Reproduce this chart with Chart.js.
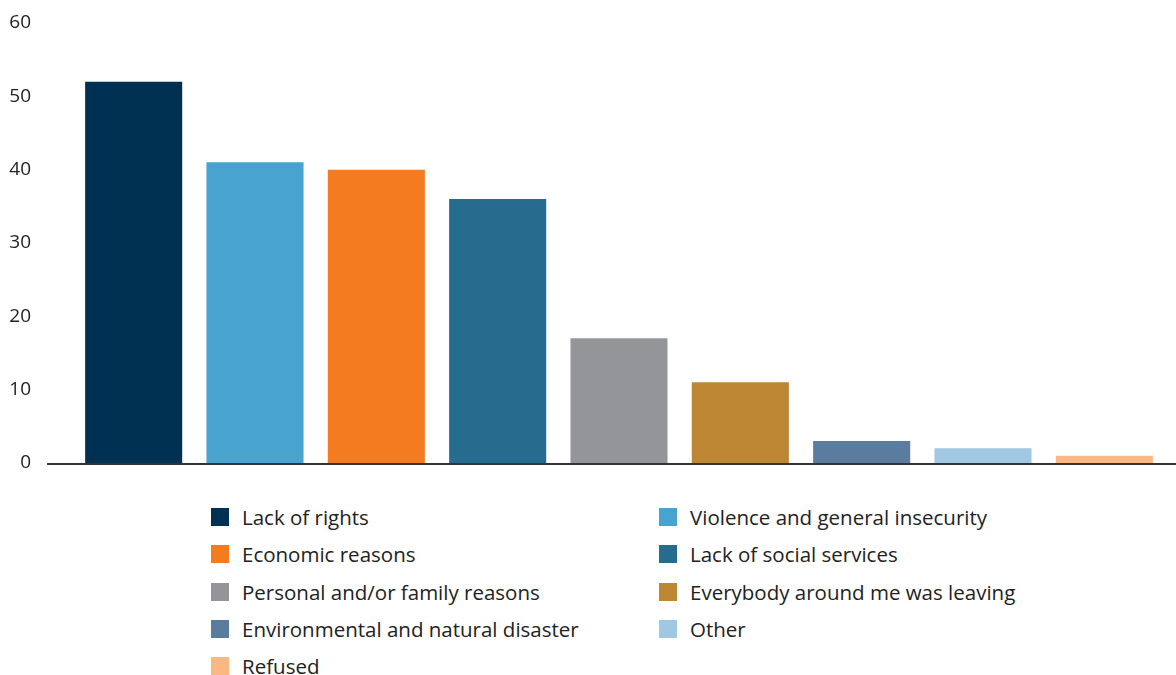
<!DOCTYPE html>
<html>
<head>
<meta charset="utf-8">
<script src="https://cdn.jsdelivr.net/npm/chart.js@4"></script>
<style>
  body { margin: 0; background: #fff; font-family: "Open Sans", Lato, sans-serif; }
  #wrap { position: relative; width: 1176px; height: 482px; }
  #legend {
    position: absolute; left: 211px; top: 505px;
    display: grid; grid-template-columns: 448px 440px; row-gap: 13.3px;
  }
  .item { display: flex; align-items: center; height: 24px; font-size: 20.5px; color: #222; }
  .sw { width: 18px; height: 18px; margin-right: 13px; flex: none; }
</style>
</head>
<body>
<div id="wrap"><canvas id="chart"></canvas></div>
<div id="legend"></div>
<script>
// Reasons for leaving
const categories = [
  'Lack of rights',
  'Violence and general insecurity',
  'Economic reasons',
  'Lack of social services',
  'Personal and/or family reasons',
  'Everybody around me was leaving',
  'Environmental and natural disaster',
  'Other',
  'Refused'
];
const values = [52, 41, 40, 36, 17, 11, 3, 2, 1];
const colors = ['#003052', '#48a3cf', '#f47b20', '#256c8f', '#949599', '#bc8633', '#5a7c9e', '#a1c8e3', '#fbb883'];
const yTicks = [0, 10, 20, 30, 40, 50, 60];

// Baseline that runs past the plot area, like the original
const baseline = {
  id: 'baseline',
  afterDatasetsDraw(chart) {
    const ctx = chart.ctx;
    const y = chart.scales.y.getPixelForValue(0);
    ctx.save();
    ctx.strokeStyle = '#333';
    ctx.lineWidth = 2;
    ctx.beginPath();
    ctx.moveTo(chart.chartArea.left - 26, y + 1);
    ctx.lineTo(chart.width, y + 1);
    ctx.stroke();
    ctx.restore();
  }
};

const ctx = document.getElementById('chart').getContext('2d');
new Chart(ctx, {
  type: 'bar',
  data: {
    labels: categories,
    datasets: [{
      data: values,
      backgroundColor: colors,
      borderWidth: 0,
      categoryPercentage: 1,
      barPercentage: 0.8
    }]
  },
  options: {
    responsive: true,
    maintainAspectRatio: false,
    animation: false,
    layout: { padding: { top: 23, right: 11, bottom: 19, left: 0 } },
    plugins: { legend: { display: false }, tooltip: { enabled: false } },
    scales: {
      x: { display: false },
      y: {
        min: 0, max: 60,
        afterFit(scale) {
          scale.width = 73;
          scale.paddingTop = 0;
          scale.paddingBottom = 0;
        },
        afterBuildTicks(scale) { scale.ticks = yTicks.map(v => ({ value: v })); },
        grid: { display: false, drawTicks: false },
        border: { display: false },
        ticks: { padding: 42, color: '#222', font: { family: 'Open Sans', size: 19 } }
      }
    }
  },
  plugins: [baseline]
});

// HTML legend, two columns
const legend = document.getElementById('legend');
categories.forEach((name, i) => {
  const item = document.createElement('div');
  item.className = 'item';
  item.innerHTML = '<span class="sw" style="background:' + colors[i] + '"></span>' + name;
  legend.appendChild(item);
});
</script>
</body>
</html>
